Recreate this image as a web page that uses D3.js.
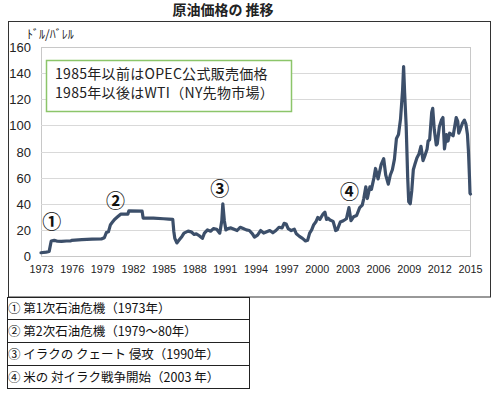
<!DOCTYPE html>
<html><head><meta charset="utf-8">
<script src="https://cdn.jsdelivr.net/npm/d3@7"></script>
<style>
html,body{margin:0;padding:0;background:#fff;}
svg{display:block;}
</style></head>
<body><svg id="c" width="500" height="396"></svg>
<script>
const title = "原油価格の 推移";
const unitLabel = "ﾄﾞﾙ/ﾊﾞﾚﾙ";
const yTicks = [0, 20, 40, 60, 80, 100, 120, 140, 160];
const xTickYears = [1973,1976,1979,1982,1985,1988,1991,1994,1997,2000,2003,2006,2009,2012,2015];
const legendLines = ["1985年以前はOPEC公式販売価格", "1985年以後はWTI（NY先物市場）"];
const markers = [
  {label:"①", year:1974.05, value:26},
  {label:"②", year:1980.3, value:42},
  {label:"③", year:1990.5, value:51},
  {label:"④", year:2003.2, value:49}
];
const notes = ["① 第1次石油危機（1973年）","② 第2次石油危機（1979～80年）","③ イラクの クェート 侵攻（1990年）","④ 米の 対イラク戦争開始（2003 年）"];

const dates = [
1973.0,1973.5,1973.8,1974.0,1974.3,1974.6,1975.0,1975.5,1975.9,1976.0,1977.0,1977.5,1978.0,1978.9,
1979.2,1979.4,1979.6,1979.8,1980.0,1980.2,1980.5,1980.8,1981.5,1981.6,1982.9,1983.0,1984.0,1985.0,1985.5,1985.9,
1986.0,1986.1,1986.3,1986.5,1986.8,1987.0,1987.4,1987.7,1988.0,1988.2,1988.5,1988.8,1989.0,1989.3,1989.6,1989.9,
1990.2,1990.5,1990.7,1990.8,1990.95,1991.1,1991.3,1991.6,1991.9,1992.2,1992.5,1992.8,1993.1,1993.4,1993.7,1993.9,
1994.2,1994.5,1994.8,1995.1,1995.4,1995.7,1996.0,1996.3,1996.6,1996.8,1997.0,1997.2,1997.5,1997.8,
1998.0,1998.3,1998.6,1998.9,1999.1,1999.3,1999.5,1999.7,1999.9,2000.1,2000.3,2000.6,2000.8,2000.95,
2001.1,2001.3,2001.6,2001.85,2002.0,2002.3,2002.6,2002.9,2003.15,2003.35,2003.6,2003.9,
2004.2,2004.45,2004.6,2004.8,2004.95,2005.2,2005.35,2005.6,2005.75,2006.0,2006.3,2006.55,2006.75,
2007.0,2007.2,2007.4,2007.6,2007.8,2008.0,2008.2,2008.4,2008.5,2008.6,2008.75,2008.9,
2009.0,2009.15,2009.3,2009.45,2009.6,2009.8,2010.0,2010.2,2010.4,2010.55,2010.8,2010.9,
2011.05,2011.25,2011.35,2011.5,2011.7,2011.8,2012.0,2012.2,2012.35,2012.5,2012.7,2012.85,
2013.0,2013.2,2013.35,2013.5,2013.65,2013.8,2013.9,2014.05,2014.25,2014.45,2014.6,2014.75,2014.85,2014.95,2015.0,2015.05
];
const prices = [
2.5,3.0,3.5,11.5,12,11.3,11.2,11.5,11.5,12.0,12.5,12.7,12.9,13.0,
14,18,18.5,24,26,28,30,32,32,34.5,34.3,29,29,28.5,28.2,28,
19,13.5,10,12,15,17.5,19,18.5,16.5,17,15.5,13.5,17.5,20,19,21,
20.5,17.5,27,40,27,20,21,21.5,20.5,19.5,22,21,20,19.5,17,14.5,
16,19.5,17.5,18.5,19.5,17.8,19.5,22,21.5,25,24.5,21,19.5,20.5,
17,15,13.5,11.5,12,17.5,20,24,26,29.5,28,32,33.5,28,
29,27.5,26.5,19.5,20,26,27,28.5,37,27,30,31,
37,39,44,53,44,53,51,60,67,59,70,74.5,62,
55,62,66,74,90,93,105,127,145,125,100,60,
41.5,40,50,66,70,75,78,84,73,76,82,88,
89,110,113,97,85,86,99,104,106,82,93,88,
94,93,92,99,106,103,94,97,101.5,104,101,93,80,60,48,47.5
];

const svg = d3.select("#c");
const jp = "'Noto Sans CJK JP', sans-serif";
const num = "'Liberation Sans', Arial, sans-serif";

const L = 41, R = 470, T = 47, B = 256;
const x = d3.scaleLinear().domain([1973, 2015]).range([L, R]);
const y = d3.scaleLinear().domain([0, 160]).range([B, T]);

// title
svg.append("text").attr("x", 223).attr("y", 15).attr("text-anchor", "middle")
  .attr("font-family", jp).attr("font-weight", "bold").attr("font-size", 14).attr("fill", "#222").text(title);

// outer chart box
svg.append("rect").attr("x", 8.5).attr("y", 21.5).attr("width", 482).attr("height", 275.5)
  .attr("fill", "none").attr("stroke", "#333").attr("stroke-width", 1);

// plot area frame
svg.append("rect").attr("x", L + 0.5).attr("y", T + 0.5).attr("width", R - L).attr("height", B - T)
  .attr("fill", "none").attr("stroke", "#c8c8c8").attr("stroke-width", 1);

// grid
svg.append("g").selectAll("line").data(yTicks.filter(d => d > 0 && d < 160)).join("line")
  .attr("x1", L).attr("x2", R).attr("y1", d => Math.round(y(d)) + 0.5).attr("y2", d => Math.round(y(d)) + 0.5)
  .attr("stroke", "#d9d9d9").attr("stroke-width", 1);

// y axis
const yAxis = d3.axisLeft(y).tickValues(yTicks).tickSize(0).tickPadding(0);
const gy = svg.append("g").attr("transform", `translate(31,0)`).call(yAxis);
gy.select(".domain").remove();
gy.selectAll("text").attr("font-family", num).attr("font-size", 13).attr("fill", "#222").attr("dy", "0.35em");

// x axis
const xAxis = d3.axisBottom(x).tickValues(xTickYears).tickFormat(d3.format("d")).tickSize(0).tickPadding(0);
const gx = svg.append("g").attr("transform", `translate(0,${B + 9})`).call(xAxis);
gx.select(".domain").remove();
gx.selectAll("text").attr("font-family", num).attr("font-size", 10.8).attr("fill", "#222").attr("dy", "0.71em");

// unit
svg.append("text").attr("x", 27).attr("y", 39).attr("font-family", jp).attr("font-size", 12).attr("fill", "#222").text(unitLabel);

// line
const line = d3.line().x((d, i) => x(dates[i])).y(d => y(d)).curve(d3.curveLinear);
svg.append("path").datum(prices).attr("d", line).attr("fill", "none")
  .attr("stroke", "#3c4f6a").attr("stroke-width", 3.2).attr("stroke-linejoin", "round").attr("stroke-linecap", "round");

// legend box
svg.append("rect").attr("x", 46.5).attr("y", 60.5).attr("width", 245).attr("height", 51)
  .attr("fill", "#fff").attr("stroke", "#8cc56a").attr("stroke-width", 1.5);
svg.append("g").selectAll("text").data(legendLines).join("text")
  .attr("x", 55).attr("y", (d, i) => 79 + i * 19).attr("font-family", jp).attr("font-size", 14).attr("letter-spacing", 0.3).attr("fill", "#222")
  .text(d => d);

// markers
svg.append("g").selectAll("text").data(markers).join("text")
  .attr("x", d => x(d.year)).attr("y", d => y(d.value)).attr("text-anchor", "middle").attr("dy", "0.36em")
  .attr("font-family", jp).attr("font-weight", "bold").attr("font-size", 19).attr("fill", "#111").text(d => d.label);

// notes table
const rowTop = [297, 319, 342, 365, 388];
const tg = svg.append("g");
tg.append("line").attr("x1", 7.5).attr("x2", 7.5).attr("y1", 297).attr("y2", 388).attr("stroke", "#222");
tg.append("line").attr("x1", 249.5).attr("x2", 249.5).attr("y1", 297).attr("y2", 388).attr("stroke", "#222");
tg.selectAll("line.h").data(rowTop).join("line").attr("class", "h")
  .attr("x1", 7).attr("x2", 250).attr("y1", d => d + 0.5).attr("y2", d => d + 0.5).attr("stroke", "#222");
tg.selectAll("text").data(notes).join("text")
  .attr("x", 8).attr("y", (d, i) => (rowTop[i] + rowTop[i + 1]) / 2 + 5)
  .attr("font-family", jp).attr("font-size", 12.5).attr("fill", "#111").text(d => d);
</script>
</body></html>
